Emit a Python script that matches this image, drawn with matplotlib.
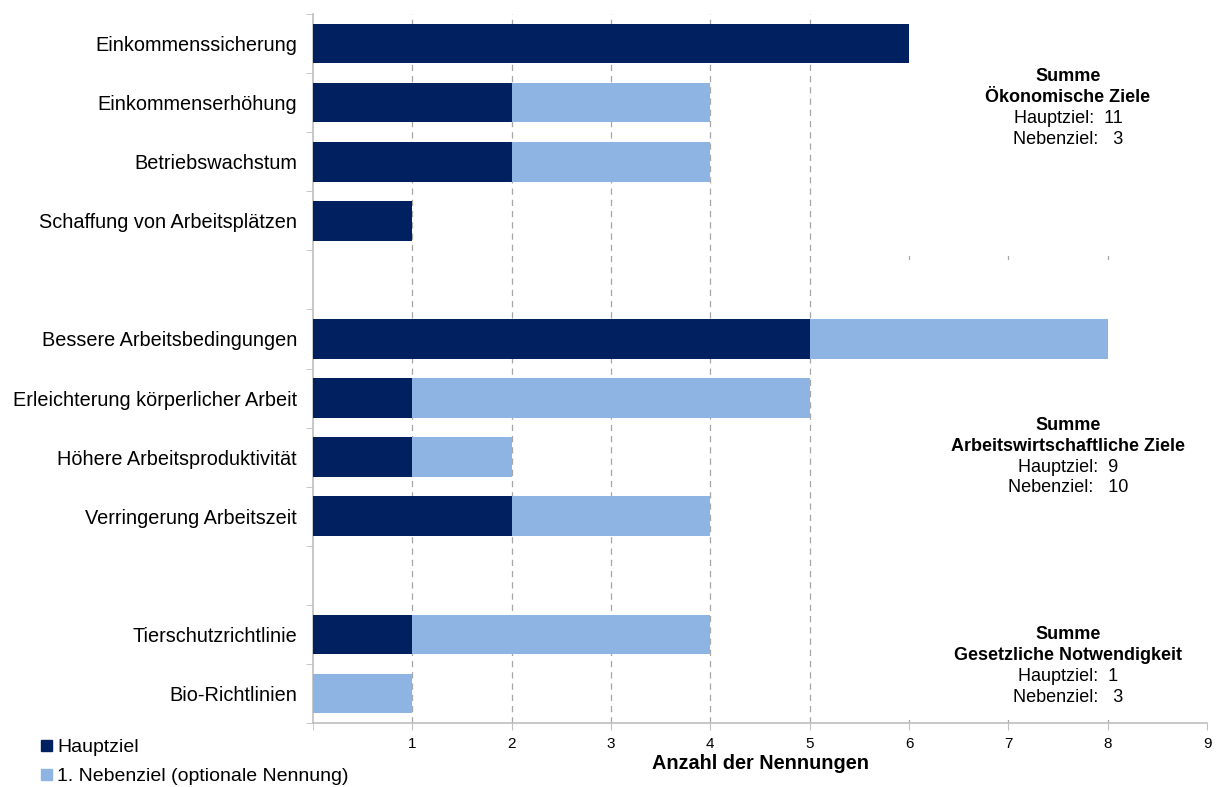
import matplotlib
matplotlib.use("Agg")
import matplotlib.pyplot as plt
import matplotlib.patches as mpatches
import numpy as np

plt.rcParams['font.family'] = ['Liberation Sans', 'DejaVu Sans']

dark = '#002060'
light = '#8DB4E2'

# categories (empty strings are the gaps between groups)
categories = ["Einkommenssicherung", "Einkommenserhöhung", "Betriebswachstum",
              "Schaffung von Arbeitsplätzen", "",
              "Bessere Arbeitsbedingungen", "Erleichterung körperlicher Arbeit",
              "Höhere Arbeitsproduktivität", "Verringerung Arbeitszeit", "",
              "Tierschutzrichtlinie", "Bio-Richtlinien"]
hauptziel = [6, 2, 2, 1, 0, 5, 1, 1, 2, 0, 1, 0]
nebenziel = [0, 2, 2, 0, 0, 3, 4, 1, 2, 0, 3, 1]

# group sums as printed in the chart
group_titles = ["Ökonomische Ziele", "Arbeitswirtschaftliche Ziele", "Gesetzliche Notwendigkeit"]
group_haupt = [11, 9, 1]
group_neben = [3, 10, 3]

fig = plt.figure(figsize=(12.16, 7.87), dpi=100)
ax = fig.add_axes([0.2574, 0.0813, 0.7352, 0.9009])

y = np.arange(len(categories))
ax.barh(y, hauptziel, height=0.67, color=dark, zorder=3)
ax.barh(y, nebenziel, left=hauptziel, height=0.67, color=light, zorder=3)

ax.set_xlim(0, 9)
ax.set_ylim(len(categories) - 0.5, -0.5)

ax.set_xticks(range(1, 10))
ax.set_xticks([0], minor=True)
ax.tick_params(axis='x', which='both', direction='out', length=5, color='#bfbfbf',
               labelsize=11, pad=5)
ax.set_yticks(y)
ax.set_yticklabels(categories, fontsize=14.3)
ax.set_yticks(np.arange(-0.5, len(categories)), minor=True)
ax.tick_params(axis='y', which='major', length=0, pad=11.5)
ax.tick_params(axis='y', which='minor', length=5, color='#bfbfbf')

for s in ['top', 'right']:
    ax.spines[s].set_visible(False)
for s in ['left', 'bottom']:
    ax.spines[s].set_color('#bfbfbf')
    ax.spines[s].set_linewidth(1.2)

for xv in range(1, 9):
    ax.axvline(xv, color='#a6a6a6', linestyle=(0, (5, 4)), linewidth=0.9, zorder=1)

# white text boxes on the right hide the grid behind the sums
for y0, y1 in [(-0.5, 3.52), (3.66, 11.45)]:
    ax.add_patch(mpatches.Rectangle((5.45, y0), 3.55, y1 - y0, facecolor='white',
                                    edgecolor='none', zorder=2))

ax.set_xlabel("Anzahl der Nennungen", fontsize=14.3, fontweight='bold', labelpad=2)

# group sum annotations, one line at a time
anchors = [0.566, 6.457, 10.01]
step = 0.355
xa = 7.6
for ya, t, h, n in zip(anchors, group_titles, group_haupt, group_neben):
    ax.text(xa, ya, "Summe", ha='center', va='center', fontsize=13, fontweight='bold', zorder=4)
    ax.text(xa, ya + step, t, ha='center', va='center', fontsize=13, fontweight='bold', zorder=4)
    ax.text(xa, ya + 2 * step, "Hauptziel:  %d" % h, ha='center', va='center', fontsize=13, zorder=4)
    ax.text(xa, ya + 3 * step, "Nebenziel:   %d" % n, ha='center', va='center', fontsize=13, zorder=4)

handles = [mpatches.Patch(color=dark, label="Hauptziel"),
           mpatches.Patch(color=light, label="1. Nebenziel (optionale Nennung)")]
fig.legend(handles=handles, loc='upper left', bbox_to_anchor=(0.026, 0.073),
           frameon=False, fontsize=14, handlelength=0.55, handleheight=0.55,
           handletextpad=0.25, labelspacing=0.62, borderpad=0)

fig.savefig("out.png", dpi=100)
